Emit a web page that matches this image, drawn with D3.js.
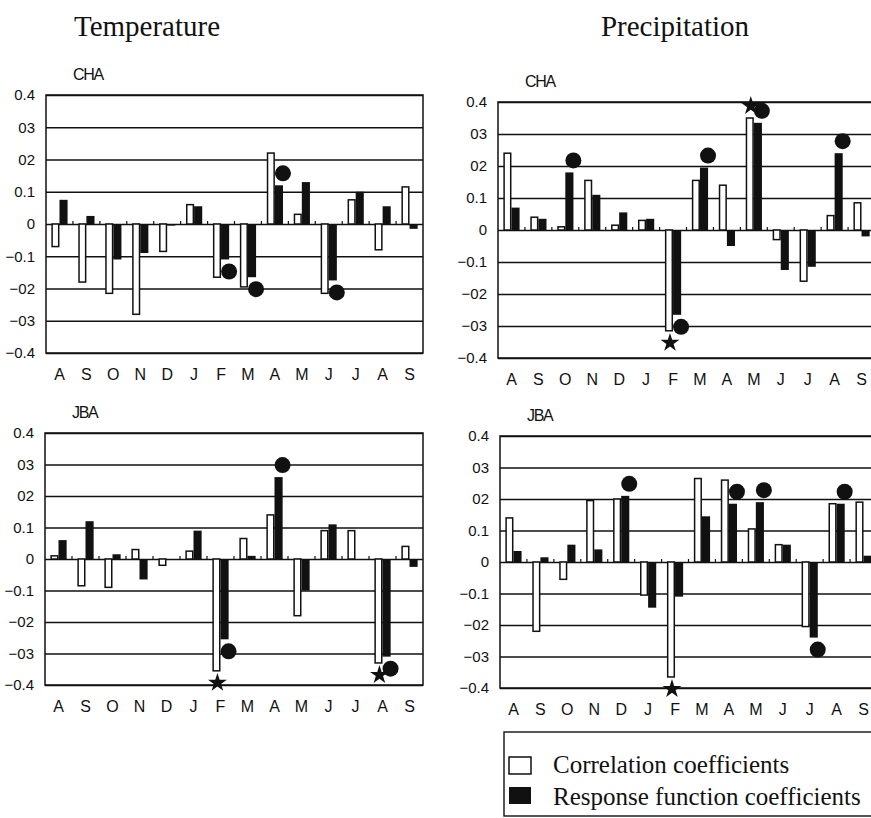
<!DOCTYPE html>
<html>
<head>
<meta charset="utf-8">
<script src="https://cdn.jsdelivr.net/npm/d3@7"></script>
<style>
  body { margin: 0; background: #fff; }
  svg { display: block; }
</style>
</head>
<body>
<div id="chart"></div>
<script>
'use strict';

// month axis, Aug of previous year to Sep of current year
var months = ['A', 'S', 'O', 'N', 'D', 'J', 'F', 'M', 'A', 'M', 'J', 'J', 'A', 'S'];
var tickValues = [0.4, 0.3, 0.2, 0.1, 0, -0.1, -0.2, -0.3, -0.4];
var tickLabels = ['0.4', '03', '02', '0.1', '0', '\u22120.1', '\u221202', '\u221203', '\u22120.4'];

// Temperature - CHA
var tempChaCorr = [-0.07, -0.18, -0.215, -0.28, -0.085, 0.06, -0.165, -0.195, 0.22, 0.03, -0.215, 0.075, -0.08, 0.115];
var tempChaResp = [0.075, 0.025, -0.11, -0.09, -0.005, 0.055, -0.11, -0.165, 0.12, 0.13, -0.175, 0.10, 0.055, -0.015];
var tempChaDots = [6, 7, 8, 10];
var tempChaStars = [];

// Precipitation - CHA
var precChaCorr = [0.24, 0.04, 0.01, 0.155, 0.015, 0.03, -0.315, 0.155, 0.14, 0.35, -0.03, -0.16, 0.045, 0.085];
var precChaResp = [0.07, 0.035, 0.18, 0.11, 0.055, 0.035, -0.265, 0.195, -0.05, 0.335, -0.125, -0.115, 0.24, -0.02];
var precChaDots = [2, 6, 7, 9, 12];
var precChaStars = [6, 9];

// Temperature - JBA
var tempJbaCorr = [0.01, -0.085, -0.09, 0.03, -0.02, 0.025, -0.355, 0.065, 0.14, -0.18, 0.09, 0.09, -0.33, 0.04];
var tempJbaResp = [0.06, 0.12, 0.015, -0.065, 0, 0.09, -0.255, 0.01, 0.26, -0.10, 0.11, 0, -0.31, -0.025];
var tempJbaDots = [6, 8, 12];
var tempJbaStars = [6, 12];

// Precipitation - JBA
var precJbaCorr = [0.14, -0.22, -0.055, 0.195, 0.20, -0.105, -0.365, 0.265, 0.26, 0.105, 0.055, -0.205, 0.185, 0.19];
var precJbaResp = [0.035, 0.015, 0.055, 0.04, 0.21, -0.145, -0.11, 0.145, 0.185, 0.19, 0.055, -0.24, 0.185, 0.02];
var precJbaDots = [4, 8, 9, 11, 12];
var precJbaStars = [6];

var ink = '#111';
var sans = '"Liberation Sans", Arial, sans-serif';
var serif = '"Liberation Serif", "Times New Roman", serif';

var panels = [
  {name: 'CHA', corr: tempChaCorr, resp: tempChaResp, dots: tempChaDots, stars: tempChaStars, left: 46, top: 95, width: 377, height: 258},
  {name: 'CHA', corr: precChaCorr, resp: precChaResp, dots: precChaDots, stars: precChaStars, left: 498, top: 102, width: 377, height: 256},
  {name: 'JBA', corr: tempJbaCorr, resp: tempJbaResp, dots: tempJbaDots, stars: tempJbaStars, left: 45, top: 433, width: 378, height: 252},
  {name: 'JBA', corr: precJbaCorr, resp: precJbaResp, dots: precJbaDots, stars: precJbaStars, left: 500, top: 436, width: 377, height: 252}
];

var svg = d3.select('#chart').append('svg')
  .attr('width', 871)
  .attr('height', 818);

svg.append('text')
  .attr('x', 147).attr('y', 36)
  .attr('text-anchor', 'middle')
  .style('font-family', serif).style('font-size', '29px').style('fill', ink)
  .text('Temperature');

svg.append('text')
  .attr('x', 675).attr('y', 36)
  .attr('text-anchor', 'middle')
  .style('font-family', serif).style('font-size', '29px').style('fill', ink)
  .text('Precipitation');

panels.forEach(drawPanel);
drawLegend();

function drawPanel(p) {

  var g = svg.append('g')
    .attr('transform', 'translate(' + p.left + ',' + p.top + ')');

  var x = d3.scaleBand().domain(d3.range(months.length)).range([0, p.width]);
  var sub = d3.scaleBand().domain(['corr', 'resp']).range([0, x.bandwidth()]).paddingOuter(0.66);
  var y = d3.scaleLinear().domain([-0.4, 0.4]).range([p.height, 0]);

  // gridlines + value labels
  g.append('g')
    .call(d3.axisLeft(y)
      .tickValues(tickValues)
      .tickFormat(function(d, i) { return tickLabels[i]; })
      .tickSize(-p.width)
      .tickPadding(11))
    .call(function(a) {
      a.select('.domain').remove();
      a.selectAll('line').attr('stroke', ink).attr('stroke-width', 1.3);
      a.selectAll('text')
        .style('font-family', sans).style('font-size', '15px').style('fill', ink);
    });

  g.append('rect')
    .attr('width', p.width).attr('height', p.height)
    .attr('fill', 'none').attr('stroke', ink).attr('stroke-width', 1.5);

  // little marks on the zero line between months
  g.selectAll('.zt')
    .data(d3.range(1, months.length))
    .enter().append('line')
      .attr('x1', function(i) { return x(i); })
      .attr('x2', function(i) { return x(i); })
      .attr('y1', y(0)).attr('y2', y(0) - 3)
      .attr('stroke', ink).attr('stroke-width', 1.2);

  // month letters
  g.append('g')
    .attr('transform', 'translate(0,' + (p.height + 16) + ')')
    .call(d3.axisBottom(x)
      .tickFormat(function(i) { return months[i]; })
      .tickSize(0).tickPadding(0))
    .call(function(a) {
      a.select('.domain').remove();
      a.selectAll('text')
        .style('font-family', sans).style('font-size', '16px').style('fill', ink);
    });

  g.append('text')
    .attr('x', 27).attr('y', -15)
    .style('font-family', sans).style('font-size', '16px')
    .style('letter-spacing', '-1.3px').style('fill', ink)
    .text(p.name);

  // correlation (open) bars
  g.selectAll('.corr')
    .data(p.corr)
    .enter().append('rect')
      .attr('class', 'corr')
      .attr('x', function(d, i) { return x(i) + sub('corr') + 0.75; })
      .attr('y', function(d) { return y(Math.max(0, d)); })
      .attr('width', sub.bandwidth() - 1.5)
      .attr('height', function(d) { return Math.abs(y(d) - y(0)); })
      .attr('fill', '#fff').attr('stroke', ink).attr('stroke-width', 1.5);

  // response function (filled) bars
  g.selectAll('.resp')
    .data(p.resp)
    .enter().append('rect')
      .attr('class', 'resp')
      .attr('x', function(d, i) { return x(i) + sub('resp'); })
      .attr('y', function(d) { return y(Math.max(0, d)); })
      .attr('width', sub.bandwidth())
      .attr('height', function(d) { return Math.abs(y(d) - y(0)); })
      .attr('fill', ink);

  // significant response coefficients
  g.selectAll('.dot')
    .data(p.dots)
    .enter().append('circle')
      .attr('cx', function(i) { return x(i) + sub('resp') + sub.bandwidth() / 2 + 4; })
      .attr('cy', function(i) { return y(p.resp[i]) + (p.resp[i] < 0 ? 12 : -12); })
      .attr('r', 8)
      .attr('fill', ink);

  // significant correlations
  g.selectAll('.star')
    .data(p.stars)
    .enter().append('path')
      .attr('d', d3.symbol().type(d3.symbolStar).size(110))
      .attr('transform', function(i) {
        var cx = x(i) + sub('corr') + sub.bandwidth() / 2 + 1;
        var cy = y(p.corr[i]) + (p.corr[i] < 0 ? 12 : -12);
        return 'translate(' + cx + ',' + cy + ')';
      })
      .attr('fill', ink);
}

function drawLegend() {

  var lg = svg.append('g').attr('transform', 'translate(504,732)');

  lg.append('rect')
    .attr('width', 380).attr('height', 84)
    .attr('fill', 'none').attr('stroke', ink).attr('stroke-width', 1.4);

  lg.append('rect')
    .attr('x', 5).attr('y', 25).attr('width', 22).attr('height', 17)
    .attr('fill', '#fff').attr('stroke', ink).attr('stroke-width', 1.5);

  lg.append('rect')
    .attr('x', 5).attr('y', 55).attr('width', 22).attr('height', 17)
    .attr('fill', ink);

  lg.append('text')
    .attr('x', 49).attr('y', 41)
    .style('font-family', serif).style('font-size', '25px').style('fill', ink)
    .text('Correlation coefficients');

  lg.append('text')
    .attr('x', 49).attr('y', 73)
    .style('font-family', serif).style('font-size', '25px').style('fill', ink)
    .text('Response function coefficients');
}
</script>
</body>
</html>
